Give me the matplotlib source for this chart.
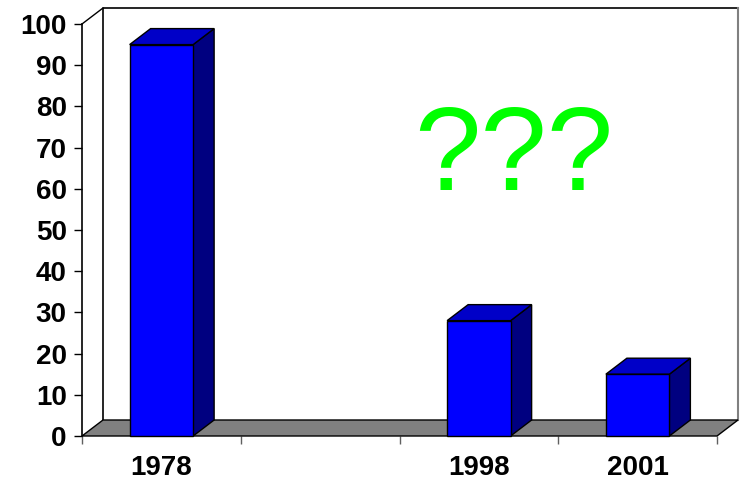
import numpy as np
import matplotlib
matplotlib.use("Agg")
import matplotlib.pyplot as plt
from matplotlib.patches import Polygon

# ---- data ----
categories = ["1978", "", "1998", "2001"]
values = [95, np.nan, 28, 15]
y_ticks = [0, 10, 20, 30, 40, 50, 60, 70, 80, 90, 100]
annotation = "???"

# ---- style ----
FRONT = "#0000FF"
TOP = "#0000C8"
SIDE = "#000080"
FLOOR = "#808080"
DEPTH_PX = (21, 16)
BAR_W = 0.4

plt.rcParams['font.family'] = ['Liberation Sans', 'DejaVu Sans']

W, H = 740, 482
fig = plt.figure(figsize=(W / 100, H / 100), dpi=100)
ax = fig.add_axes([82 / W, (H - 436) / H, 635 / W, 412 / H])
n = len(categories)
ax.set_xlim(-0.5, n - 0.5)
ax.set_ylim(0, 100)
for s in ax.spines.values():
    s.set_visible(False)

# depth offset in data units
fig.canvas.draw()
inv = ax.transData.inverted()
p0 = ax.transData.transform((0, 0))
ddx, ddy = inv.transform(p0 + np.array(DEPTH_PX)) - inv.transform(p0)

x0, x1 = -0.5, n - 0.5
# back wall
ax.add_patch(Polygon([(x0 + ddx, ddy), (x1 + ddx, ddy), (x1 + ddx, 100 + ddy), (x0 + ddx, 100 + ddy)],
                     closed=True, facecolor="white", edgecolor="none", clip_on=False, zorder=0))
ax.plot([x0 + ddx, x0 + ddx, x1 + ddx], [ddy, 100 + ddy, 100 + ddy], color="black", lw=1.2,
        clip_on=False, zorder=1)
ax.plot([x1 + ddx, x1 + ddx], [ddy, 100 + ddy], color="#808080", lw=1.5, clip_on=False, zorder=1)
# left wall edges
ax.plot([x0, x0 + ddx], [100, 100 + ddy], color="black", lw=1.0, clip_on=False, zorder=1)
ax.plot([x0, x0], [0, 100], color="black", lw=1.2, clip_on=False, zorder=1)
# floor
ax.add_patch(Polygon([(x0, 0), (x1, 0), (x1 + ddx, ddy), (x0 + ddx, ddy)], closed=True,
                     facecolor=FLOOR, edgecolor="black", lw=1.0, clip_on=False, zorder=2))

# bars
xs = np.arange(n)
ax.bar(xs, values, width=BAR_W, color=FRONT, edgecolor="black", linewidth=1.0, zorder=4, clip_on=False)
for x, v in zip(xs, values):
    if np.isnan(v):
        continue
    r = x + BAR_W / 2
    l = x - BAR_W / 2
    ax.add_patch(Polygon([(r, 0), (r + ddx, ddy), (r + ddx, v + ddy), (r, v)], closed=True,
                         facecolor=SIDE, edgecolor="black", lw=1.0, clip_on=False, zorder=3))
    ax.add_patch(Polygon([(l, v), (r, v), (r + ddx, v + ddy), (l + ddx, v + ddy)], closed=True,
                         facecolor=TOP, edgecolor="black", lw=1.0, clip_on=False, zorder=3))

# ticks
ax.set_yticks(y_ticks)
ax.set_yticklabels([str(t) for t in y_ticks], fontsize=20, fontweight="bold")
ax.tick_params(axis="y", direction="out", length=6, width=1, pad=5)
ax.set_xticks(xs)
ax.set_xticklabels(categories, fontsize=20, fontweight="bold")
ax.tick_params(axis="x", which="major", length=0, pad=14)
ax.set_xticks(np.arange(n + 1) - 0.5, minor=True)
ax.tick_params(axis="x", which="minor", direction="out", length=6, width=1, color="#606060")

ax.text(2.22, 59.7, annotation, ha="center", va="baseline", fontsize=86, color="#00FF00", zorder=6)

fig.savefig("out.png", dpi=100)
